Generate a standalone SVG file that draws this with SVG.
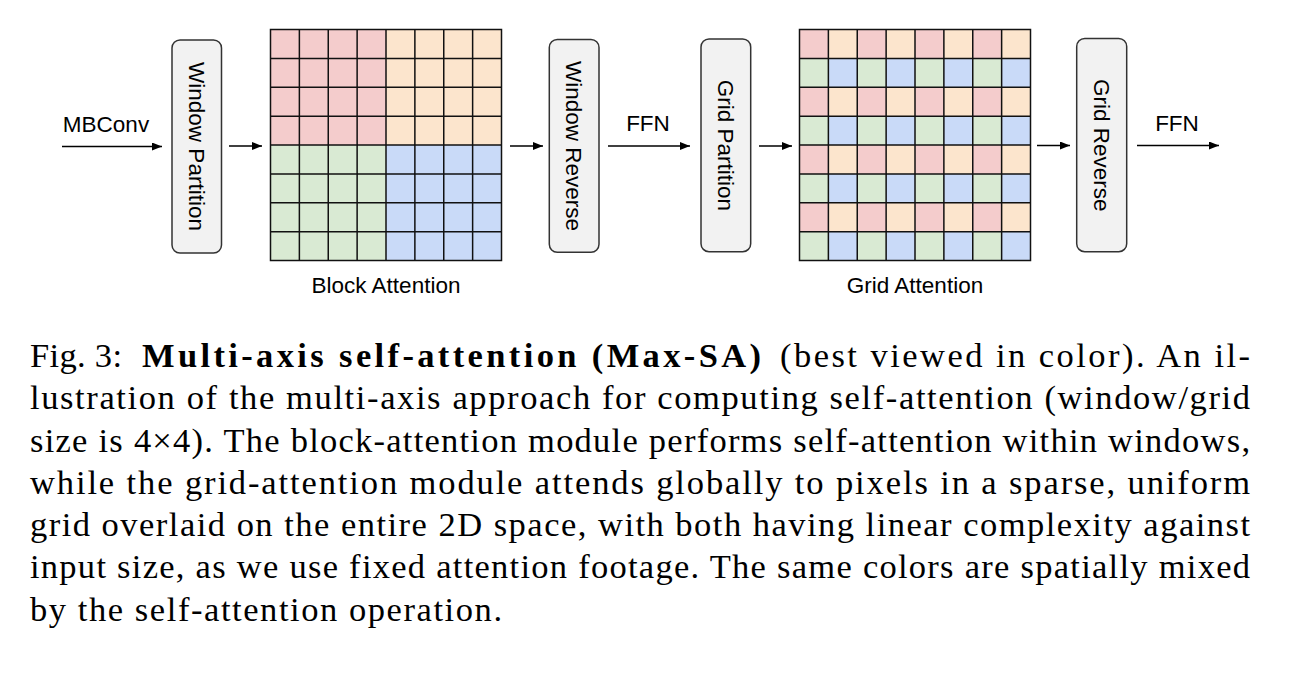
<svg xmlns="http://www.w3.org/2000/svg" width="1304" height="675" viewBox="0 0 1304 675">
<style>
.bg{fill:#ffffff}
.box{fill:#f2f2f2;stroke:#333333;stroke-width:1.5}
.lbl{font-family:"Liberation Sans",Arial,sans-serif;font-size:22.5px;fill:#000}
.mid{text-anchor:middle}
.grid{fill:none;stroke:#111111;stroke-width:1.5}
.conn{stroke:#000;stroke-width:1.3;fill:none;marker-end:url(#ah)}
.cap{font-family:"Liberation Serif","Times New Roman",serif;font-size:34.5px;fill:#000}
.b{font-weight:bold}
</style>
<defs>
<marker id="ah" markerUnits="userSpaceOnUse" markerWidth="10" markerHeight="8" refX="10" refY="4" orient="auto">
<path d="M0,0 L10,4 L0,8 z" fill="#000"/>
</marker>
<pattern id="chk" patternUnits="userSpaceOnUse" x="799.5" y="29.5" width="57.75" height="57.75">
<rect x="0" y="0" width="28.875" height="28.875" fill="#f4cccc"/>
<rect x="28.875" y="0" width="28.875" height="28.875" fill="#fce5cd"/>
<rect x="0" y="28.875" width="28.875" height="28.875" fill="#d9ead3"/>
<rect x="28.875" y="28.875" width="28.875" height="28.875" fill="#c9daf8"/>
</pattern>
</defs>
<rect class="bg" x="0" y="0" width="1304" height="675"/>

<g id="connectors">
<line class="conn" x1="62" y1="146.5" x2="162" y2="146.5"/>
<line class="conn" x1="229" y1="146" x2="262" y2="146"/>
<line class="conn" x1="510" y1="146" x2="543" y2="146"/>
<line class="conn" x1="608" y1="146" x2="690" y2="146"/>
<line class="conn" x1="759" y1="146" x2="792" y2="146"/>
<line class="conn" x1="1037" y1="145.5" x2="1070" y2="145.5"/>
<line class="conn" x1="1137" y1="145.5" x2="1219" y2="145.5"/>
<text class="lbl mid" x="106" y="131.5">MBConv</text>
<text class="lbl mid" x="648" y="131">FFN</text>
<text class="lbl mid" x="1177" y="131">FFN</text>
</g>

<g id="window-partition">
<rect class="box" x="172" y="40" width="49.5" height="213" rx="8"/>
<text class="lbl mid" transform="translate(188.6,146.5) rotate(90)">Window Partition</text>
</g>

<g id="block-attention">
<rect x="270.5" y="29.5" width="115.5" height="115.5" fill="#f4cccc"/>
<rect x="386" y="29.5" width="115.5" height="115.5" fill="#fce5cd"/>
<rect x="270.5" y="145" width="115.5" height="115.5" fill="#d9ead3"/>
<rect x="386" y="145" width="115.5" height="115.5" fill="#c9daf8"/>
<path class="grid" d="M299.375,29.5V260.5M328.25,29.5V260.5M357.125,29.5V260.5M386,29.5V260.5M414.875,29.5V260.5M443.75,29.5V260.5M472.625,29.5V260.5M270.5,58.375H501.5M270.5,87.25H501.5M270.5,116.125H501.5M270.5,145H501.5M270.5,173.875H501.5M270.5,202.75H501.5M270.5,231.625H501.5"/>
<rect class="grid" x="270.5" y="29.5" width="231" height="231"/>
<text class="lbl mid" x="386" y="293">Block Attention</text>
</g>

<g id="window-reverse">
<rect class="box" x="549.3" y="39.5" width="49.7" height="212.8" rx="8"/>
<text class="lbl mid" transform="translate(566,146) rotate(90)">Window Reverse</text>
</g>

<g id="grid-partition">
<rect class="box" x="701" y="39" width="49.7" height="212.7" rx="8"/>
<text class="lbl mid" transform="translate(717.7,145.3) rotate(90)">Grid Partition</text>
</g>

<g id="grid-attention">
<rect x="799.5" y="29.5" width="231" height="231" fill="url(#chk)"/>
<path class="grid" d="M828.375,29.5V260.5M857.25,29.5V260.5M886.125,29.5V260.5M915,29.5V260.5M943.875,29.5V260.5M972.75,29.5V260.5M1001.625,29.5V260.5M799.5,58.375H1030.5M799.5,87.25H1030.5M799.5,116.125H1030.5M799.5,145H1030.5M799.5,173.875H1030.5M799.5,202.75H1030.5M799.5,231.625H1030.5"/>
<rect class="grid" x="799.5" y="29.5" width="231" height="231"/>
<text class="lbl mid" x="915" y="293">Grid Attention</text>
</g>

<g id="grid-reverse">
<rect class="box" x="1076.7" y="38.5" width="50" height="213.2" rx="8"/>
<text class="lbl mid" transform="translate(1093.5,145.3) rotate(90)">Grid Reverse</text>
</g>

<g id="caption">
<text class="cap" x="30" y="367" textLength="92" lengthAdjust="spacing">Fig. 3:</text>
<text class="cap b" x="142" y="367" textLength="619" lengthAdjust="spacing">Multi-axis self-attention (Max-SA)</text>
<text class="cap" x="780" y="367" textLength="470" lengthAdjust="spacing">(best viewed in color). An il-</text>
<text class="cap" x="30" y="409.3" textLength="1220" lengthAdjust="spacing">lustration of the multi-axis approach for computing self-attention (window/grid</text>
<text class="cap" x="30" y="451.6" textLength="1220" lengthAdjust="spacing">size is 4×4). The block-attention module performs self-attention within windows,</text>
<text class="cap" x="30" y="494" textLength="1220" lengthAdjust="spacing">while the grid-attention module attends globally to pixels in a sparse, uniform</text>
<text class="cap" x="30" y="536.2" textLength="1220" lengthAdjust="spacing">grid overlaid on the entire 2D space, with both having linear complexity against</text>
<text class="cap" x="30" y="578.4" textLength="1220" lengthAdjust="spacing">input size, as we use fixed attention footage. The same colors are spatially mixed</text>
<text class="cap" x="30" y="620.6" textLength="472" lengthAdjust="spacing">by the self-attention operation.</text>
</g>
</svg>
